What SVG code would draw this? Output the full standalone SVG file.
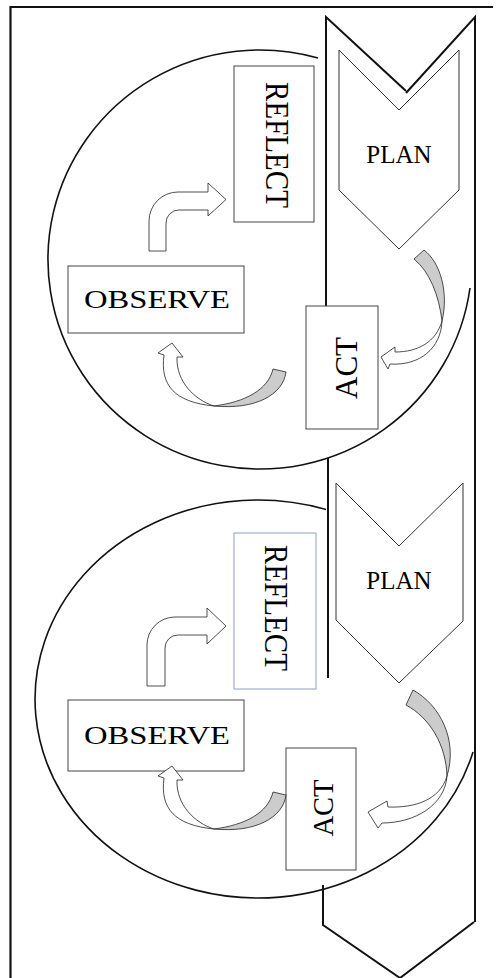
<svg xmlns="http://www.w3.org/2000/svg" width="497" height="978" viewBox="0 0 497 978">
  <style>
    .frame { fill: none; stroke: #111; stroke-width: 2.2; }
    .bold { fill: none; stroke: #111; stroke-width: 2; stroke-linecap: butt; }
    .ring { fill: none; stroke: #111; stroke-width: 1.6; }
    .box { fill: #fff; stroke: #444; stroke-width: 1; }
    .box-blue { fill: #fff; stroke: #8aa0c0; stroke-width: 1; }
    .chev { fill: #fff; stroke: #333; stroke-width: 1; }
    .grey { fill: #cccccc; stroke: #222; stroke-width: 0.8; stroke-linejoin: round; }
    .white { fill: #fff; stroke: #222; stroke-width: 0.8; stroke-linejoin: round; }
    .lbl { font-family: "Liberation Serif", "Times New Roman", serif; fill: #000; }
  </style>

  <!-- page frame (top and left edges) -->
  <path class="frame" d="M10.5,978 V7 H493"/>

  <!-- big cycle outlines -->
  <g id="cycles">
    <path class="ring" d="M318,58 A212,209.5 0 1 0 470,288"/>
    <path class="ring" d="M326,509.5 A223,199 0 1 0 473,752"/>
  </g>

  <!-- long chevron band on the right -->
  <g id="band">
    <path class="bold" d="M326,306 V17 L406,91"/>
    <path class="bold" d="M406,93 L475,17 V922"/>
    <path class="bold" d="M328,458 V678"/>
    <path class="bold" d="M323,885 V925 L400,978 L474,922"/>
  </g>

  <!-- first cycle -->
  <g id="plan-1">
    <path class="chev" d="M339,50 L399,110 L459,50 V190 L399,249 L339,190 Z"/>
    <text class="lbl" x="399" y="163" font-size="25" text-anchor="middle">PLAN</text>
  </g>
  <g id="act-1">
    <rect class="box" x="306" y="306" width="72" height="123"/>
    <text class="lbl" transform="translate(346,368) rotate(-90)" x="0" y="11" font-size="32" text-anchor="middle" textLength="62" lengthAdjust="spacingAndGlyphs">ACT</text>
  </g>
  <g id="observe-1">
    <rect class="box" x="68" y="266" width="176" height="67"/>
    <text class="lbl" x="157" y="308" font-size="25" text-anchor="middle" textLength="146" lengthAdjust="spacingAndGlyphs">OBSERVE</text>
  </g>
  <g id="reflect-1">
    <rect class="box" x="234" y="66" width="80" height="156"/>
    <text class="lbl" transform="translate(276.5,145) rotate(90)" x="0" y="11" font-size="33" text-anchor="middle" textLength="126" lengthAdjust="spacingAndGlyphs">REFLECT</text>
  </g>

  <!-- second cycle -->
  <g id="plan-2">
    <path class="chev" d="M336,483 L399,546 L463,483 V621 L399,683 L336,620 Z"/>
    <text class="lbl" x="399" y="589" font-size="25" text-anchor="middle">PLAN</text>
  </g>
  <g id="act-2">
    <rect class="box" x="286" y="748" width="70" height="122"/>
    <text class="lbl" transform="translate(323,808) rotate(-90)" x="0" y="10" font-size="30" text-anchor="middle" textLength="57" lengthAdjust="spacingAndGlyphs">ACT</text>
  </g>
  <g id="observe-2">
    <rect class="box" x="68" y="700" width="176" height="71"/>
    <text class="lbl" x="157" y="744" font-size="25" text-anchor="middle" textLength="146" lengthAdjust="spacingAndGlyphs">OBSERVE</text>
  </g>
  <g id="reflect-2">
    <rect class="box-blue" x="234" y="533" width="82" height="156"/>
    <text class="lbl" transform="translate(276,608) rotate(90)" x="0" y="11" font-size="33" text-anchor="middle" textLength="126" lengthAdjust="spacingAndGlyphs">REFLECT</text>
  </g>

  <!-- connectors: bent and curved block arrows -->
  <g id="connectors">
    <!-- observe -> reflect -->
    <path class="white" d="M149,251 V221 A29,29 0 0 1 178,192 H208 V183 L226,199.5 L208,216 V210 H179 A13,13 0 0 0 166,223 V251 Z"/>
    <path class="white" d="M147,686 V645 A28,28 0 0 1 175,617 H207 V608 L226,626 L207,644 V635 H178 A13,13 0 0 0 165,648 V686 Z"/>

    <!-- plan -> act (first) -->
    <path class="grey" d="M414,259 L424,250 C440,262 449,292 442,321 C439,296 430,272 414,259 Z"/>
    <path class="white" d="M442,321 C436,342 418,352 395,352 L395,347 L381,357 L388,369 L390,364 C420,366 441,348 442,321 Z"/>

    <!-- act -> observe (first) -->
    <path class="grey" d="M273,369 L286,372 C283,395 255,410 214,406 C245,402 268,390 273,369 Z"/>
    <path class="white" d="M214,406 C174,402 160,385 164,355 L158,353 L172,343 L183,357 L177,357 C176,382 195,400 214,406 Z"/>

    <!-- plan -> act (second) -->
    <path class="grey" d="M406,705 L413,690 C440,705 458,740 447,776 C446,745 430,718 406,705 Z"/>
    <path class="white" d="M447,776 C440,800 415,808 388,807 L387,801 L368,812 L378,828 L382,823 C415,823 445,805 447,776 Z"/>

    <!-- act -> observe (second) -->
    <g transform="translate(0,423)">
      <path class="grey" d="M273,369 L286,372 C283,395 255,410 214,406 C245,402 268,390 273,369 Z"/>
      <path class="white" d="M214,406 C174,402 160,385 164,355 L158,353 L172,343 L183,357 L177,357 C176,382 195,400 214,406 Z"/>
    </g>
  </g>
</svg>
